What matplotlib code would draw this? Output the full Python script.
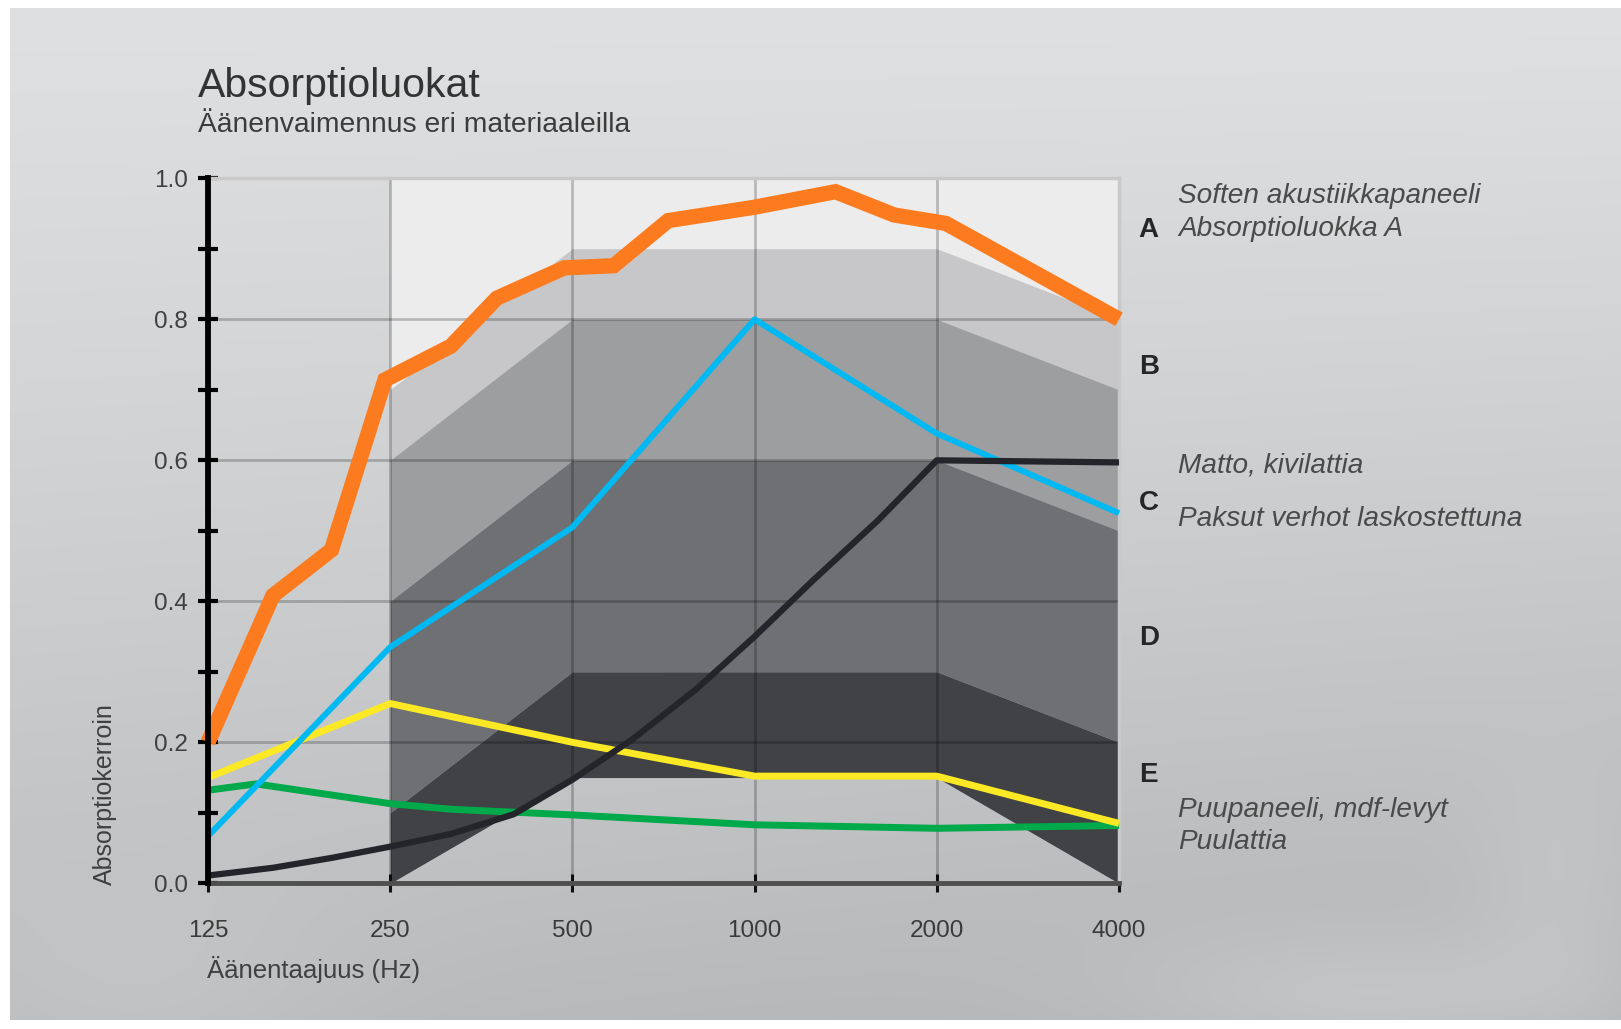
import matplotlib
matplotlib.use('agg')
import matplotlib.pyplot as plt
import numpy as np

plt.rcParams['font.family'] = ['Liberation Sans', 'DejaVu Sans']

# taajuudet ja absorptioluokkien rajakäyrät (250..4000 Hz)
band_freq = [250, 500, 1000, 2000, 4000]
curve_090 = [0.70, 0.90, 0.90, 0.90, 0.80]
curve_080 = [0.60, 0.80, 0.80, 0.80, 0.70]
curve_060 = [0.40, 0.60, 0.60, 0.60, 0.50]
curve_030 = [0.10, 0.30, 0.30, 0.30, 0.20]
curve_015 = [0.00, 0.15, 0.15, 0.15, 0.00]
top_curve = [1.0, 1.0, 1.0, 1.0, 1.0]

# materiaalit
soften_f = [125, 160, 200, 245, 315, 375, 485, 585, 720, 1000, 1360, 1700, 2070, 4000]
soften_a = [0.20, 0.408, 0.473, 0.714, 0.762, 0.83, 0.873, 0.876, 0.94, 0.959, 0.981, 0.948, 0.936, 0.80]

verho_f = [125, 250, 500, 1000, 2000, 4000]
verho_a = [0.067, 0.335, 0.505, 0.80, 0.638, 0.525]

matto_f = [125, 160, 200, 250, 315, 400, 500, 630, 800, 1000, 1250, 1600, 2000, 4000]
matto_a = [0.011, 0.022, 0.036, 0.052, 0.07, 0.098, 0.147, 0.205, 0.275, 0.35, 0.43, 0.515, 0.60, 0.597]

puupaneeli_f = [125, 250, 500, 1000, 2000, 4000]
puupaneeli_a = [0.15, 0.255, 0.20, 0.152, 0.152, 0.085]

puulattia_f = [125, 150, 250, 315, 500, 1000, 2000, 4000]
puulattia_a = [0.132, 0.141, 0.113, 0.105, 0.097, 0.083, 0.078, 0.082]

xticks = [125, 250, 500, 1000, 2000, 4000]
xtick_labels = ['125', '250', '500', '1000', '2000', '4000']
yticks = [0.0, 0.2, 0.4, 0.6, 0.8, 1.0]
ytick_labels = ['0.0', '0.2', '0.4', '0.6', '0.8', '1.0']

class_letters = ['A', 'B', 'C', 'D', 'E']
class_letter_y = [0.927, 0.733, 0.54, 0.3475, 0.1536]

W, H = 1621, 1029
fig = plt.figure(figsize=(W / 100, H / 100), dpi=100)

# taustan liukuväri
yy, xx = np.mgrid[0:H, 0:W]
fy = yy / H
fx = xx / W
v = 223 - 36 * fy ** 1.2 - 9 * fx * fy
v += 14 * np.exp(-(((xx - 1380) / 260) ** 2 + ((yy - 1000) / 70) ** 2))
v += 8 * np.exp(-(((xx - 1560) / 90) ** 2 + ((yy - 900) / 120) ** 2))
v += 6 * np.exp(-(((xx - 150) / 200) ** 2 + ((yy - 1000) / 120) ** 2))
img = np.dstack([v, v + 1, v + 2]) / 255.0
img = np.clip(img, 0, 1)
img[:8, :, :] = 1.0
img[:, :10, :] = 1.0
img[H - 9:, :, :] = 1.0
bg = fig.add_axes([0, 0, 1, 1], zorder=0)
bg.imshow(img, aspect='auto', interpolation='bilinear')
bg.axis('off')

ax = fig.add_axes([208 / W, 1 - 883.3 / H, 911 / W, 705 / H], zorder=1)
ax.set_facecolor('none')
ax.set_xscale('log', base=2)
ax.set_xlim(125, 4000)
ax.set_ylim(0, 1)

# luokkavyöhykkeet
ax.fill_between(band_freq, curve_090, top_curve, color='#ececec', lw=0, zorder=1)
ax.fill_between(band_freq, curve_080, curve_090, color='#c7c7c9', lw=0, zorder=1)
ax.fill_between(band_freq, curve_060, curve_080, color='#9d9ea0', lw=0, zorder=1)
ax.fill_between(band_freq, curve_030, curve_060, color='#6f7073', lw=0, zorder=1)
ax.fill_between(band_freq, curve_015, curve_030, color='#404246', lw=0, zorder=1)

# ruudukko
for yv in [0.2, 0.4, 0.6, 0.8, 1.0]:
    ax.axhline(yv, color='black', alpha=0.22, lw=2, zorder=2)
for xv in [250, 500, 1000, 2000, 4000]:
    ax.axvline(xv, color='black', alpha=0.22, lw=2, zorder=2)

# käyrät
ax.plot(puulattia_f, puulattia_a, color='#00a94a', lw=5, zorder=3,
        solid_capstyle='butt', clip_on=False)
ax.plot(puupaneeli_f, puupaneeli_a, color='#fbe925', lw=5, zorder=4,
        solid_capstyle='butt', clip_on=False)
ax.plot(verho_f, verho_a, color='#00b9f2', lw=4.3, zorder=5,
        solid_capstyle='butt', clip_on=False)
ax.plot(matto_f, matto_a, color='#24252a', lw=4.5, zorder=6,
        solid_capstyle='butt', clip_on=False)
ax.plot(soften_f, soften_a, color='#fd7b1f', lw=11, zorder=7,
        solid_capstyle='butt', solid_joinstyle='miter', clip_on=False)

# akselit
for s in ['top', 'right']:
    ax.spines[s].set_color('#c9c9c9')
    ax.spines[s].set_linewidth(2.5)
ax.spines['left'].set_color('black')
ax.spines['left'].set_linewidth(4.2)
ax.spines['left'].set_zorder(8)
ax.spines['bottom'].set_color('#4f4f4f')
ax.spines['bottom'].set_linewidth(3.5)

ax.set_xticks(xticks)
ax.set_xticklabels(xtick_labels)
ax.xaxis.set_minor_locator(matplotlib.ticker.NullLocator())
ax.set_yticks(yticks)
ax.set_yticklabels(ytick_labels)
ax.set_yticks([0.1, 0.3, 0.5, 0.7, 0.9], minor=True)

ax.tick_params(axis='y', which='both', direction='inout', length=15, width=3,
               color='black', labelsize=17.5, labelcolor='#404040', pad=7)
ax.tick_params(axis='x', which='major', direction='inout', length=13, width=2.2,
               color='#111111', labelsize=17.5, labelcolor='#3a3a3a', pad=20)

fig.text(207 / W, 1 - 978 / H, 'Äänentaajuus (Hz)', fontsize=18.5,
         color='#404040', ha='left', va='baseline')
fig.text(105 / W, 1 - 794 / H, 'Absorptiokerroin', fontsize=18, rotation=90,
         color='#404040', ha='center', va='center')

fig.text(198 / W, 1 - 96.7 / H, 'Absorptioluokat', fontsize=29.5,
         color='#333333', ha='left', va='baseline')
fig.text(198 / W, 1 - 131.7 / H, 'Äänenvaimennus eri materiaaleilla', fontsize=20.3,
         color='#3c3c3c', ha='left', va='baseline')

# luokkakirjaimet
for letter, yv in zip(class_letters, class_letter_y):
    ax.text(1.0326, yv, letter, transform=ax.get_yaxis_transform(),
            fontsize=20, fontweight='bold', color='#262626',
            ha='center', va='center')

italic_labels = [
    ('Soften akustiikkapaneeli', 203.3),
    ('Absorptioluokka A', 236),
    ('Matto, kivilattia', 472.3),
    ('Paksut verhot laskostettuna', 525.7),
    ('Puupaneeli, mdf-levyt', 816.7),
    ('Puulattia', 849.3),
]
for txt, yb in italic_labels:
    fig.text(1178 / W, 1 - yb / H, txt, fontsize=20.2, style='italic',
             color='#4a4a4a', ha='left', va='baseline')

fig.savefig('out.png', dpi=100)
